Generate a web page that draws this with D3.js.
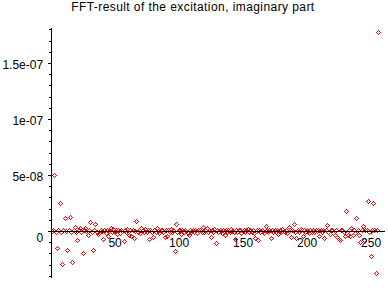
<!DOCTYPE html>
<html>
<head>
<meta charset="utf-8">
<script src="https://cdn.jsdelivr.net/npm/d3@7"></script>
<style>
  body { margin: 0; background: #fff; }
  svg { display: block; font-family: "Liberation Sans", Arial, sans-serif; }
</style>
</head>
<body>
<div id="chart"></div>
<script>
// imaginary part of the FFT, values in units of 1e-8 (index 1..256)
const imagE8 = [
  0, 0.05, 4.97, -0.05, -1.55, 0.1, 2.47, -0.1, -2.95, 0.05, 1.13, 0, -1.73, 0.1, 1.22, -0.05,
  -2.74, 0.1, 0.36, -0.1, -0.83, 0.05, 0.24, -0.1, -2.0, 0.1, 0.24, 0, -0.38, 0.1, 0.78, -0.1,
  -1.73, 0.05, 0.6, -0.1, -0.24, -0.2, 0.1, 0, -0.74, 0.05, -0.15, 0.1, -0.45, 0, 0.3, -0.1,
  0.15, -0.05, 0.1, -0.3, 0.05, -0.15, 0.1, 0, -0.92, 0.1, -0.1, 0.15, -0.36, 0.05, -0.47, 0.1,
  -0.65, 0, 0.87, -0.1, 0.1, -0.15, 0.24, 0.05, -0.1, 0.15, -0.05, 0.1, -0.74, 0.05, -0.1, -0.54,
  0.1, -0.05, 0.3, 0, -0.15, 0.1, 0.05, -0.1, -0.54, 0.1, -0.42, 0.05, -0.1, 0.15, -0.05, 0.1,
  -1.81, 0.6, -0.1, 0.05, 0.1, -0.3, 0.05, -0.1, 0.1, 0, -0.15, -0.36, 0.1, -0.05, 0.05, -0.1,
  0.1, -0.15, 0.05, 0, 0.1, -0.1, 0.36, -0.05, 0.1, 0.3, -0.1, 0.05, -0.54, 0.1, -0.05, 0.15,
  -1.1, 0.05, -0.1, 0.1, 0, -0.15, 0.1, -0.38, 0.05, -0.05, 0.1, -0.1, 0.15, 0, -0.1, -0.74,
  0.1, -0.05, 0.05, 0.1, -0.15, 0, 0.1, -0.1, 0.05, 0.15, -0.05, 0.1, -0.1, 0.05, -0.2, -0.6,
  0.1, -0.83, 0.05, -0.1, 0.1, 0, -0.15, 0.45, 0.05, -0.1, 0.1, -0.6, 0.05, -0.05, 0.1, -0.1,
  0.05, -0.27, 0.1, -0.05, 0.15, 0, -0.1, 0.1, -0.15, 0.36, 0.05, -0.54, 0.1, 0.6, -0.05, -0.6,
  0.1, -0.1, 0.05, 0.15, -0.45, 0.05, -0.1, 0.1, 0, -0.15, 0.1, -0.05, 0.05, -0.1, 0.1, 0,
  0.1, -0.45, 0.05, -0.1, 0.1, -0.65, 0.05, 0.5, -0.1, -0.24, 0.1, 0.05, -0.15, -0.38, 0.1, -0.54,
  -0.68, -0.83, 0.1, 0.05, -0.1, -0.42, 1.77, -0.33, 0.1, -0.48, 0.24, -0.36, 0.05, -0.2, 1.14, 0.1,
  -0.4, -1.0, 0.1, 0.42, -0.83, 0.1, 0.05, 2.65, -0.1, -2.25, 0.1, 2.47, 0.05, -3.78, 0.1, 17.74
];
const indices = imagE8.map((v, i) => i + 1);

const xMajorTicks = [50, 100, 150, 200, 250];
const xMinorTicks = [10, 20, 30, 40, 60, 70, 80, 90, 110, 120, 130, 140, 160, 170, 180, 190, 210, 220, 230, 240];
const yMajorTicks = [0, 5, 10, 15];
const yTickLabels = ["0", "5e-08", "1e-07", "1.5e-07"];
const yMinorTicks = [-4, -3, -2, -1, 1, 2, 3, 4, 6, 7, 8, 9, 11, 12, 13, 14, 16, 17, 18];

const titleText = "FFT-result of the excitation, imaginary part";

const WIDTH = 388, HEIGHT = 288;

const svg = d3.select("#chart").append("svg")
  .attr("width", WIDTH)
  .attr("height", HEIGHT);

// scales
const xScale = d3.scaleLinear().domain([0, 260.5]).range([50.6, 384]);
const yScale = d3.scaleLinear().domain([-4.15, 18.13]).range([277.5, 27.9]);

// title
svg.append("text")
  .attr("x", 192.7)
  .attr("y", 10.5)
  .attr("text-anchor", "middle")
  .attr("font-size", 12)
  .attr("textLength", 243)
  .attr("lengthAdjust", "spacing")
  .text(titleText);

// points (open red diamonds), drawn aliased like the original
const diamond = "M0,-2L2,0L0,2L-2,0Z";
svg.append("g")
  .selectAll("path")
  .data(imagE8)
  .enter()
  .append("path")
  .attr("d", diamond)
  .attr("transform", (d, i) => `translate(${Math.round(xScale(indices[i])) + 0.5},${Math.round(yScale(d)) + 0.5})`)
  .attr("fill", "none")
  .attr("stroke", "#ff0000")
  .attr("stroke-width", 1)
  .attr("shape-rendering", "crispEdges");

// y axis
const yAxisG = svg.append("g")
  .attr("transform", `translate(${xScale(0)},0)`)
  .attr("shape-rendering", "crispEdges");

yAxisG.append("g")
  .call(d3.axisLeft(yScale).tickValues(yMinorTicks).tickSize(2).tickSizeOuter(0).tickFormat(""));

yAxisG.append("g")
  .call(d3.axisLeft(yScale).tickValues(yMajorTicks).tickSize(3).tickSizeOuter(0)
    .tickPadding(4.5).tickFormat((d, i) => yTickLabels[i]))
  .call(g => g.selectAll("text")
    .attr("font-size", 12)
    .attr("font-family", "Liberation Sans, Arial, sans-serif")
    .attr("fill", "#000")
    .attr("dy", d => d === 0 ? "0.89em" : "0.46em"));

// x axis, through zero
const xAxisG = svg.append("g")
  .attr("transform", `translate(0,${yScale(0)})`)
  .attr("shape-rendering", "crispEdges");

xAxisG.append("g")
  .call(d3.axisBottom(xScale).tickValues(xMinorTicks).tickSize(2).tickSizeOuter(0).tickFormat(""));

xAxisG.append("g")
  .call(d3.axisBottom(xScale).tickValues(xMajorTicks).tickSize(3).tickSizeOuter(0).tickPadding(4))
  .call(g => g.selectAll("text")
    .attr("font-size", 12)
    .attr("font-family", "Liberation Sans, Arial, sans-serif")
    .attr("fill", "#000"));

svg.selectAll(".domain, .tick line").attr("stroke", "#000");
</script>
</body>
</html>
